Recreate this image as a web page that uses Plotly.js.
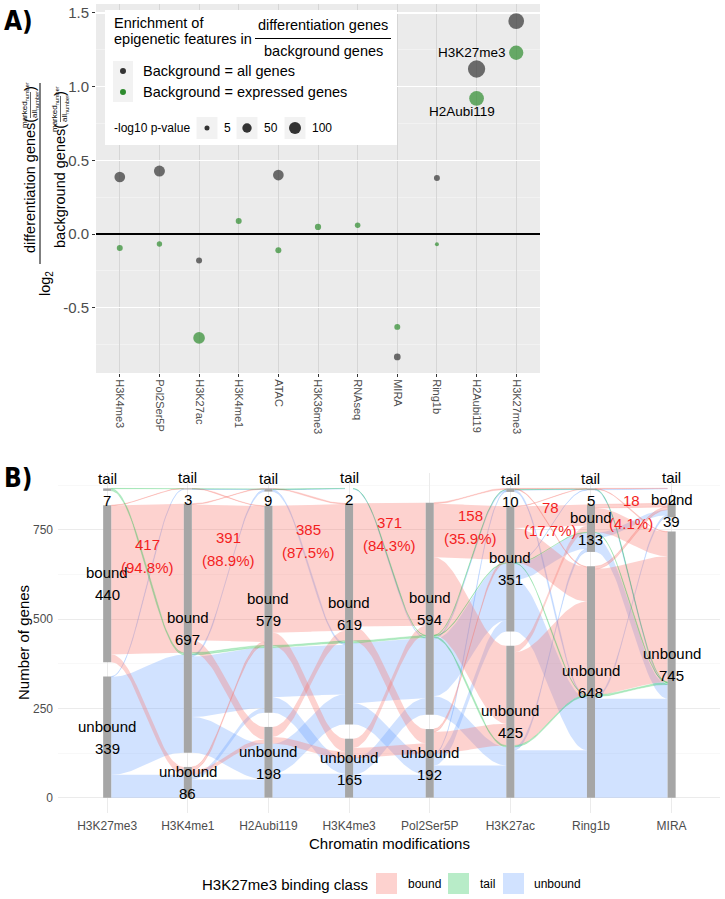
<!DOCTYPE html>
<html><head><meta charset="utf-8">
<script src="https://cdn.plot.ly/plotly-3.0.1.min.js"></script>
<style>html,body{margin:0;padding:0;background:#fff}#chart{width:725px;height:899px}</style>
</head><body><div id="chart"></div>
<script>
// ================= DATA =================
// Panel A
const featuresA = ['H3K4me3','Pol2Ser5P','H3K27ac','H3K4me1','ATAC','H3K36me3','RNAseq','MIRA','Ring1b','H2Aubi119','H3K27me3'];
const log2FcAll  = [0.387, 0.427, -0.18, null, 0.40, null, null, -0.834, 0.38, 1.12, 1.445];
const pValAll    = [73, 79, 11, null, 73, null, null, 17, 11, 252, 199];
const log2FcExpr = [-0.095, -0.068, -0.705, 0.088, -0.11, 0.048, 0.06, -0.63, -0.07, 0.92, 1.23];
const pValExpr   = [11, 7, 93, 11, 11, 13, 8, 11, 1.2, 169, 158];
const sizeLegendVals = [5, 50, 100];
const labelledA = ['H3K27me3', 'H2Aubi119'];

// Panel B
const modsB = ['H3K27me3','H3K4me1','H2Aubi119','H3K4me3','Pol2Ser5P','H3K27ac','Ring1b','MIRA'];
const strataNames = ['unbound','bound','tail'];
const unboundN = [339, 86, 198, 165, 192, 425, 648, 745];
const boundN   = [440, 697, 579, 619, 594, 351, 133, 39];
const tailN    = [7, 3, 9, 2, 0, 10, 5, 2];
const boundClassTotal = 440;
const boundClassBoundN = [417, 391, 385, 371, 158, 78, 18];
const classNames = ['bound','tail','unbound'];
// flows per gap: [from unbound,bound,tail][to unbound,bound,tail]
const flowsBoundClass = [
 [[0,0,0],[22,417,1],[0,0,0]],
 [[12,10,0],[35,380,2],[0,1,0]],
 [[19,28,0],[36,355,0],[0,2,0]],
 [[29,26,0],[40,345,0],[0,0,0]],
 [[61,8,0],[218,150,3],[0,0,0]],
 [[261,18,0],[97,60,1],[2,0,1]],
 [[352,8,0],[68,10,0],[1,0,1]]
];
const flowsTailClass = [
 [[0,0,0],[0,0,0],[0,6,1]],
 [[0,0,0],[0,6,0],[0,0,1]],
 [[0,0,0],[0,6,0],[0,0,1]],
 [[0,0,0],[0,6,0],[0,1,0]],
 [[0,0,0],[4,2,1],[0,0,0]],
 [[4,0,0],[1,1,0],[0,0,1]],
 [[5,0,0],[1,0,0],[1,0,0]]
];
const flowsUnboundClass = [
 [[64,274,1],[0,0,0],[0,0,0]],
 [[51,13,0],[100,169,5],[0,0,1]],
 [[67,84,0],[43,139,0],[0,5,1]],
 [[64,46,0],[59,169,0],[0,1,0]],
 [[90,31,2],[52,160,4],[0,0,0]],
 [[133,9,0],[145,45,1],[5,0,1]],
 [[277,6,0],[39,15,0],[1,0,1]]
];

// ================= HELPERS =================
const W = 725, H = 899;
const PX = x => x / W, PY = y => 1 - y / H;
const sizeOf = p => 3 + 0.9 * Math.sqrt(p);
const FONT = 'Liberation Sans, Arial, sans-serif';
const traces = [], shapes = [], ann = [];

// ================= PANEL A =================
shapes.push({type:'rect', xref:'x domain', yref:'y domain', x0:0, x1:1, y0:0, y1:1,
  fillcolor:'#EBEBEB', line:{width:0}, layer:'below'});
traces.push({type:'scatter', mode:'markers', x:featuresA, y:log2FcAll, xaxis:'x', yaxis:'y',
  marker:{color:'#333333', size:pValAll.map(p => p == null ? 0 : sizeOf(p)), line:{width:0}}, hoverinfo:'skip'});
traces.push({type:'scatter', mode:'markers', x:featuresA, y:log2FcExpr, xaxis:'x', yaxis:'y',
  marker:{color:'#2E8B2E', size:pValExpr.map(p => sizeOf(p)), line:{width:0}}, hoverinfo:'skip'});
ann.push({xref:'x', yref:'y', x:labelledA[0], y:log2FcExpr[featuresA.indexOf(labelledA[0])], text:labelledA[0],
  showarrow:false, xanchor:'right', yanchor:'middle', xshift:-8, font:{size:13.5, color:'#000', family:FONT}});
ann.push({xref:'x', yref:'y', x:labelledA[1], y:log2FcExpr[featuresA.indexOf(labelledA[1])], text:labelledA[1],
  showarrow:false, xanchor:'center', yanchor:'middle', xshift:-15, yshift:-13, font:{size:13.5, color:'#000', family:FONT}});

// Legend box A
shapes.push({type:'rect', xref:'paper', yref:'paper', x0:PX(105), x1:PX(397), y0:PY(145), y1:PY(10), fillcolor:'#FFFFFF', line:{width:0}});
const tA = (x, y, text, xa, size, extra) => ann.push(Object.assign({xref:'paper', yref:'paper', x:PX(x), y:PY(y), text, showarrow:false,
  xanchor:xa, yanchor:'middle', font:{size, color:'#000', family:FONT}}, extra || {}));
tA(112, 23, 'Enrichment of', 'left', 14.5);
tA(112, 39, 'epigenetic features in', 'left', 14.5);
tA(323, 25, 'differentiation genes', 'center', 14.5);
tA(323, 51, 'background genes', 'center', 14.5);
shapes.push({type:'line', xref:'paper', yref:'paper', x0:PX(255), x1:PX(391), y0:PY(38.5), y1:PY(38.5), line:{color:'#000', width:1}});
shapes.push({type:'rect', xref:'paper', yref:'paper', x0:PX(113), x1:PX(133), y0:PY(102), y1:PY(61), fillcolor:'#F2F2F2', line:{width:0}});
const dotA = (cx, cy, d, col) => shapes.push({type:'circle', xref:'paper', yref:'paper', x0:PX(cx - d/2), x1:PX(cx + d/2),
  y0:PY(cy + d/2), y1:PY(cy - d/2), fillcolor:col, line:{width:0}});
dotA(123, 71, sizeOf(11), '#333333');
dotA(123, 92, sizeOf(11), '#2E8B2E');
tA(141, 71, 'Background = all genes', 'left', 14.5);
tA(141, 92, 'Background = expressed genes', 'left', 14.5);
tA(112, 128, '-log10 p-value', 'left', 12);
const keyX = [207, 247, 295], keyLabX = [227, 271, 322];
sizeLegendVals.forEach((v, i) => {
  shapes.push({type:'rect', xref:'paper', yref:'paper', x0:PX(keyX[i]-10.5), x1:PX(keyX[i]+10.5), y0:PY(139), y1:PY(117), fillcolor:'#F2F2F2', line:{width:0}});
  dotA(keyX[i], 128, sizeOf(v), '#333333');
  tA(keyLabX[i], 128, String(v), 'center', 12);
});

// Y title A (plotmath-like fraction)
const rot = (x, y, text, size) => ann.push({xref:'paper', yref:'paper', x:PX(x), y:PY(y), text, showarrow:false, textangle:-90,
  xanchor:'center', yanchor:'middle', font:{size, color:'#000', family:FONT}});
rot(30, 186, 'differentiation genes(', 14.5);
rot(30, 89, ')', 14.5);
rot(60, 186, 'background genes(', 14.5);
rot(60, 94, ')', 14.5);
[[30, 105], [60, 109]].forEach(([cx, cy]) => {
  rot(cx - 5, cy, 'marked<sub>number</sub>', 8);
  rot(cx + 5, cy, 'all<sub>number</sub>', 8);
  shapes.push({type:'line', xref:'paper', yref:'paper', x0:PX(cx + 0.5), x1:PX(cx + 0.5), y0:PY(cy + 13), y1:PY(cy - 13), line:{color:'#000', width:0.6}});
});
shapes.push({type:'line', xref:'paper', yref:'paper', x0:PX(40), x1:PX(40), y0:PY(264), y1:PY(83), line:{color:'#000', width:1}});
rot(46, 284, 'log<sub>2</sub>', 14.5);

// Panel labels
ann.push({xref:'paper', yref:'paper', x:PX(2), y:PY(21), text:'<b>A)</b>', showarrow:false, xanchor:'left', yanchor:'middle',
  font:{size:26, color:'#000', family:'Liberation Sans Narrow, DejaVu Sans Condensed, sans-serif'}});
ann.push({xref:'paper', yref:'paper', x:PX(2), y:PY(478), text:'<b>B)</b>', showarrow:false, xanchor:'left', yanchor:'middle',
  font:{size:26, color:'#000', family:'Liberation Sans Narrow, DejaVu Sans Condensed, sans-serif'}});

// ================= PANEL B =================
const GAP = 40, BARW = 0.1;
const countsB = modsB.map((m, k) => [unboundN[k], boundN[k], tailN[k]]);
const strataPos = countsB.map(c => { let y = 0; return c.map(n => { if (n <= 0) return null; const r = [y, y + n]; y += n + GAP; return r; }); });
const classFlows = [flowsBoundClass, flowsTailClass, flowsUnboundClass];
const classFill = ['rgba(248,118,109,0.33)', 'rgba(0,186,56,0.28)', 'rgba(97,156,255,0.29)'];
const classLine = ['rgba(248,118,109,0.38)', 'rgba(0,186,56,0.28)', 'rgba(97,156,255,0.3)'];
const stackOrder = [2, 1, 0];   // bottom -> top inside each stratum
const drawOrder = [2, 0, 1];
const NPT = 40;
for (let g = 0; g < modsB.length - 1; g++) {
  const ribs = {};
  const out = strataPos[g].map(r => r ? r[0] : 0);
  for (let s = 0; s < 3; s++) for (const c of stackOrder) for (let t = 0; t < 3; t++) {
    const n = classFlows[c][g][s][t];
    if (n > 0) { ribs[c + '_' + s + '_' + t] = {c, n, a0: out[s], a1: out[s] + n}; out[s] += n; }
  }
  const inn = strataPos[g + 1].map(r => r ? r[0] : 0);
  for (let t = 0; t < 3; t++) for (const c of stackOrder) for (let s = 0; s < 3; s++) {
    const n = classFlows[c][g][s][t];
    if (n > 0) { const r = ribs[c + '_' + s + '_' + t]; r.b0 = inn[t]; r.b1 = inn[t] + n; inn[t] += n; }
  }
  const x0 = g + 1 + BARW / 2, x1 = g + 2 - BARW / 2;
  for (const c of drawOrder) {
    Object.values(ribs).filter(r => r.c === c).forEach(r => {
      const xs = [], ys = [];
      for (let i = 0; i <= NPT; i++) { const t = i / NPT, s = (1 - Math.cos(Math.PI * t)) / 2;
        xs.push(x0 + (x1 - x0) * t); ys.push(r.a1 + (r.b1 - r.a1) * s); }
      for (let i = NPT; i >= 0; i--) { const t = i / NPT, s = (1 - Math.cos(Math.PI * t)) / 2;
        xs.push(x0 + (x1 - x0) * t); ys.push(r.a0 + (r.b0 - r.a0) * s); }
      traces.push({type:'scatter', mode:'lines', x:xs, y:ys, xaxis:'x2', yaxis:'y2', fill:'toself',
        fillcolor:classFill[c], line:{width: r.n <= 10 ? 0.6 : 0, color:classLine[c]}, hoverinfo:'skip'});
    });
  }
}
// strata bars + labels
strataPos.forEach((arr, k) => arr.forEach((r, s) => {
  if (!r) return;
  const xa = k + 1 - BARW / 2, xb = k + 1 + BARW / 2;
  traces.push({type:'scatter', mode:'lines', x:[xa, xb, xb, xa, xa], y:[r[0], r[0], r[1], r[1], r[0]], xaxis:'x2', yaxis:'y2',
    fill:'toself', fillcolor:'#A6A6A6', line:{width:0}, hoverinfo:'skip'});
  const yc = (r[0] + r[1]) / 2;
  ann.push({xref:'x2', yref:'y2', x:k + 1, y:yc, yshift:11, text:strataNames[s], showarrow:false, font:{size:15, color:'#000', family:FONT}});
  ann.push({xref:'x2', yref:'y2', x:k + 1, y:yc, yshift:-11, text:String(countsB[k][s]), showarrow:false, font:{size:15, color:'#000', family:FONT}});
}));
// red labels: bound-class genes that are bound for each modification
const redLabelY = [676, 697, 718, 739, 759, 779, 799];
boundClassBoundN.forEach((n, i) => {
  const pct = (100 * n / boundClassTotal).toFixed(1) + '%';
  ann.push({xref:'x2', yref:'y2', x:i + 1.5, y:redLabelY[i], yshift:11.5, text:String(n), showarrow:false, font:{size:15, color:'#F41E1E', family:FONT}});
  ann.push({xref:'x2', yref:'y2', x:i + 1.5, y:redLabelY[i], yshift:-11.5, text:'(' + pct + ')', showarrow:false, font:{size:15, color:'#F41E1E', family:FONT}});
});
// axis titles B
ann.push({xref:'paper', yref:'paper', x:PX(389), y:PY(843), text:'Chromatin modifications', showarrow:false, xanchor:'center', yanchor:'middle', font:{size:15, color:'#000', family:FONT}});
ann.push({xref:'paper', yref:'paper', x:PX(23), y:PY(643), text:'Number of genes', showarrow:false, textangle:-90, xanchor:'center', yanchor:'middle', font:{size:15, color:'#000', family:FONT}});
// legend B
tA(200, 884, 'H3K27me3 binding class', 'left', 15);
const legKeyX = [376, 448, 503], legLabX = [406, 478, 532];
classNames.forEach((c, i) => {
  shapes.push({type:'rect', xref:'paper', yref:'paper', x0:PX(legKeyX[i]), x1:PX(legKeyX[i] + 21), y0:PY(894), y1:PY(873), fillcolor:classFill[i], line:{width:0}});
  tA(legLabX[i], 884, c, 'left', 12);
});

// ================= LAYOUT =================
const layout = {
  width: W, height: H, margin:{l:0, r:0, t:0, b:0}, showlegend:false,
  paper_bgcolor:'#FFFFFF', plot_bgcolor:'rgba(0,0,0,0)', font:{family:FONT, color:'#000'},
  xaxis:{domain:[PX(96), PX(540)], anchor:'y', type:'category', categoryarray:featuresA, range:[-0.6, 10.6], tickangle:90,
    ticks:'outside', ticklen:3, tickcolor:'#333333', tickfont:{size:11, color:'#4D4D4D'}, showgrid:true, gridcolor:'#D6D6D6',
    gridwidth:1, zeroline:false, showline:false},
  yaxis:{domain:[PY(373), PY(4)], anchor:'x', range:[-0.943, 1.561], tickvals:[-0.5, 0, 0.5, 1, 1.5], ticktext:['-0.5','0.0','0.5','1.0','1.5'],
    ticks:'outside', ticklen:3, tickcolor:'#333333', tickfont:{size:15, color:'#4D4D4D'}, showgrid:true, gridcolor:'#FFFFFF', gridwidth:1.2,
    minor:{tickvals:[-0.75, -0.25, 0.25, 0.75, 1.25], showgrid:true, gridcolor:'#F6F6F6', gridwidth:0.6},
    zeroline:true, zerolinecolor:'#000000', zerolinewidth:1.4, showline:false},
  xaxis2:{domain:[PX(58), PX(720)], anchor:'y2', range:[0.39, 8.6], tickvals:modsB.map((m, i) => i + 1), ticktext:modsB, ticks:'',
    tickfont:{size:12, color:'#4D4D4D'}, showgrid:true, gridcolor:'#EBEBEB', gridwidth:1, zeroline:false, showline:false, ticklabelstandoff:4},
  yaxis2:{domain:[PY(813), PY(473)], anchor:'x2', range:[-43, 909], tickvals:[0, 250, 500, 750], ticktext:['0','250','500','750'], ticks:'',
    tickfont:{size:12, color:'#4D4D4D'}, showgrid:true, gridcolor:'#EBEBEB', gridwidth:1,
    minor:{tickvals:[125, 375, 625, 875], showgrid:true, gridcolor:'#F4F4F4', gridwidth:0.6}, zeroline:false, showline:false, ticklabelstandoff:4},
  shapes, annotations: ann
};
Plotly.newPlot('chart', traces, layout, {staticPlot:true});
</script></body></html>
